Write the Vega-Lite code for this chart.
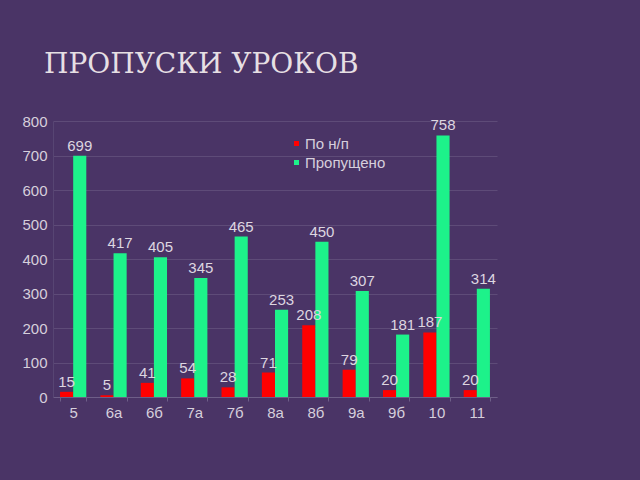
{
  "$schema": "https://vega.github.io/schema/vega-lite/v6.json",
  "autosize": "none",
  "width": 444,
  "height": 276,
  "padding": {"left": 53, "top": 121, "right": 143, "bottom": 83},
  "background": "#4a3466",
  "title": {
    "text": "ПРОПУСКИ УРОКОВ",
    "anchor": "start",
    "frame": "group",
    "dx": -9,
    "offset": 35,
    "font": "DejaVu Serif",
    "fontSize": 28,
    "fontWeight": "normal",
    "color": "#e6dfe3"
  },
  "data": {
    "values": [
      {"cls": "5", "series": "По н/п", "v": 15},
      {"cls": "5", "series": "Пропущено", "v": 699},
      {"cls": "6а", "series": "По н/п", "v": 5},
      {"cls": "6а", "series": "Пропущено", "v": 417},
      {"cls": "6б", "series": "По н/п", "v": 41},
      {"cls": "6б", "series": "Пропущено", "v": 405},
      {"cls": "7а", "series": "По н/п", "v": 54},
      {"cls": "7а", "series": "Пропущено", "v": 345},
      {"cls": "7б", "series": "По н/п", "v": 28},
      {"cls": "7б", "series": "Пропущено", "v": 465},
      {"cls": "8а", "series": "По н/п", "v": 71},
      {"cls": "8а", "series": "Пропущено", "v": 253},
      {"cls": "8б", "series": "По н/п", "v": 208},
      {"cls": "8б", "series": "Пропущено", "v": 450},
      {"cls": "9а", "series": "По н/п", "v": 79},
      {"cls": "9а", "series": "Пропущено", "v": 307},
      {"cls": "9б", "series": "По н/п", "v": 20},
      {"cls": "9б", "series": "Пропущено", "v": 181},
      {"cls": "10", "series": "По н/п", "v": 187},
      {"cls": "10", "series": "Пропущено", "v": 758},
      {"cls": "11", "series": "По н/п", "v": 20},
      {"cls": "11", "series": "Пропущено", "v": 314}
    ]
  },
  "encoding": {
    "x": {
      "field": "cls",
      "type": "nominal",
      "sort": null,
      "title": null,
      "scale": {"paddingInner": 0.35, "paddingOuter": 0.175},
      "axis": {
        "labelAngle": 0,
        "labelFont": "Liberation Sans",
        "labelFontSize": 15,
        "labelColor": "#d6cfdc",
        "labelPadding": 4,
        "domainColor": "#6e5e88",
        "tickColor": "#6e5e88",
        "tickBand": "extent",
        "tickSize": 4,
        "grid": false
      }
    },
    "xOffset": {"field": "series", "type": "nominal", "sort": ["По н/п", "Пропущено"], "scale": {"paddingInner": 0, "paddingOuter": 0}},
    "y": {
      "field": "v",
      "type": "quantitative",
      "title": null,
      "scale": {"domain": [0, 800], "nice": false},
      "axis": {
        "values": [0, 100, 200, 300, 400, 500, 600, 700, 800],
        "labelFont": "Liberation Sans",
        "labelFontSize": 15,
        "labelColor": "#d6cfdc",
        "labelPadding": 6,
        "ticks": false,
        "domainColor": "#574573",
        "gridColor": "#665680",
        "gridOpacity": 0.7
      }
    }
  },
  "layer": [
    {
      "mark": {"type": "bar"},
      "encoding": {
        "color": {
          "field": "series",
          "type": "nominal",
          "sort": ["По н/п", "Пропущено"],
          "scale": {"domain": ["По н/п", "Пропущено"], "range": ["#ff0000", "#1df28a"]},
          "legend": {
            "title": null,
            "orient": "none",
            "legendX": 236,
            "legendY": 15,
            "symbolType": "square",
            "symbolSize": 25,
            "symbolStrokeWidth": 0,
            "labelFont": "Liberation Sans",
            "labelFontSize": 15,
            "labelColor": "#d6cfdc",
            "labelOffset": 1,
            "rowPadding": 3
          }
        }
      }
    },
    {
      "mark": {"type": "text", "baseline": "bottom", "dy": -2, "font": "Liberation Sans", "fontSize": 15, "color": "#ddd6e0"},
      "encoding": {"text": {"field": "v", "type": "quantitative"}}
    }
  ],
  "config": {"view": {"stroke": null}}
}
